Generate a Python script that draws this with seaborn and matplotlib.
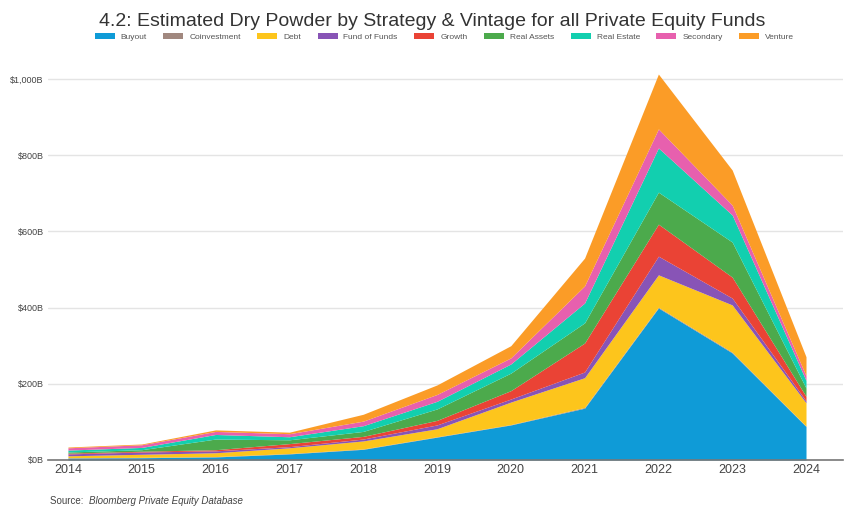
import numpy as np
import pandas as pd
import matplotlib
matplotlib.use("Agg")
import matplotlib.pyplot as plt
from matplotlib.patches import Patch
import seaborn as sns

# Data (USD billions)
years = list(range(2014, 2025))
buyout        = [5, 6, 8, 16, 28, 60, 92, 136, 399, 281, 88]
coinvestment  = [1, 1, 1, 1, 1, 1, 1, 2, 2, 2, 1]
debt          = [5, 8, 10, 15, 21, 21, 59, 78, 85, 124, 61]
fund_of_funds = [5, 6, 5, 3, 5, 10, 8, 15, 49, 18, 5]
growth        = [2, 2, 3, 8, 7, 12, 22, 76, 84, 55, 12]
real_assets   = [3, 4, 28, 10, 13, 30, 46, 53, 84, 92, 22]
real_estate   = [5, 6, 12, 8, 15, 20, 24, 52, 116, 71, 20]
secondary     = [6, 7, 8, 8, 12, 18, 16, 45, 50, 26, 12]
venture       = [2, 2, 4, 4, 18, 25, 32, 73, 144, 92, 50]

strategies = ["Buyout", "Coinvestment", "Debt", "Fund of Funds", "Growth",
              "Real Assets", "Real Estate", "Secondary", "Venture"]
colors = ["#0f9bd7", "#a1887f", "#fdc51c", "#8854b6", "#ea4335",
          "#4caa4c", "#12cfaf", "#e760ae", "#fb9c27"]

df = pd.DataFrame({
    "Buyout": buyout, "Coinvestment": coinvestment, "Debt": debt,
    "Fund of Funds": fund_of_funds, "Growth": growth, "Real Assets": real_assets,
    "Real Estate": real_estate, "Secondary": secondary, "Venture": venture,
}, index=years)

sns.set_theme(style="white")
plt.rcParams["font.family"] = ["Liberation Sans", "DejaVu Sans"]

fig = plt.figure(figsize=(8.48, 5.08), dpi=100)
ax = fig.add_axes([0.0566, 0.0945, 0.9374, 0.7875])

ax.stackplot(df.index, [df[s] for s in strategies], colors=colors,
             labels=strategies, linewidth=0)

ax.set_xlim(2013.73, 2024.5)
ax.set_ylim(0, 1050)
ax.set_xticks(years)
ax.set_xticklabels([str(y) for y in years], fontsize=9, color="#444444")
ax.set_yticks([0, 200, 400, 600, 800, 1000])
ax.set_yticklabels(["$0B", "$200B", "$400B", "$600B", "$800B", "$1,000B"],
                   fontsize=6.5, color="#444444")
ax.tick_params(axis="both", length=0, pad=3)
ax.grid(axis="y", color="#e4e4e4", linewidth=1)
ax.set_axisbelow(True)
for side in ["top", "right", "left"]:
    ax.spines[side].set_visible(False)
ax.spines["bottom"].set_color("#777777")
ax.spines["bottom"].set_linewidth(1.2)

fig.text(0.51, 0.975, "4.2: Estimated Dry Powder by Strategy & Vintage for all Private Equity Funds",
         ha="center", va="top", fontsize=14, color="#333333")

handles = [Patch(facecolor=c, edgecolor="none") for c in colors]
fig.legend(handles, strategies, loc="center", bbox_to_anchor=(0.524, 0.927), ncol=9,
           frameon=False, fontsize=6, handlelength=2.4, handleheight=0.8,
           columnspacing=2.0, handletextpad=0.7, labelcolor="#555555")

fig.text(0.059, 0.004, "Source: ", ha="left", va="bottom", fontsize=7, color="#444444")
fig.text(0.105, 0.004, "Bloomberg Private Equity Database", ha="left", va="bottom",
         fontsize=7, color="#444444", style="italic")

fig.savefig("out.png", dpi=100)
